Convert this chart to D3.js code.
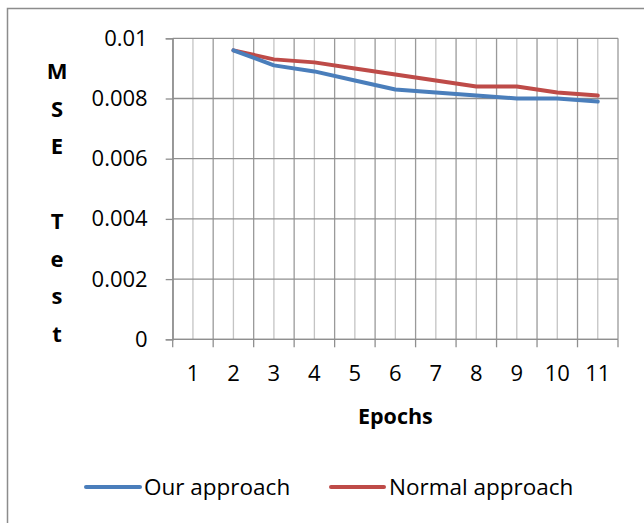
<!DOCTYPE html>
<html>
<head>
<meta charset="utf-8">
<script src="https://cdn.jsdelivr.net/npm/d3@7"></script>
<style>
  body { margin: 0; background: #fff; }
  text { font-family: "Open Sans", sans-serif; fill: #000; }
</style>
</head>
<body>
<svg id="chart"></svg>
<script>
var epochs = ["1", "2", "3", "4", "5", "6", "7", "8", "9", "10", "11"];
var ourApproach = [null, 0.0096, 0.0091, 0.0089, 0.0086, 0.0083, 0.0082, 0.0081, 0.0080, 0.0080, 0.0079];
var normalApproach = [null, 0.0096, 0.0093, 0.0092, 0.0090, 0.0088, 0.0086, 0.0084, 0.0084, 0.0082, 0.0081];
var yTicks = [0, 0.002, 0.004, 0.006, 0.008, 0.01];
var yLabelChars = ["M", "S", "E", "", "T", "e", "s", "t"];

var W = 644, H = 523;
var plot = {left: 172.7, right: 618, top: 38.3, bottom: 339.3};

var svg = d3.select("#chart")
  .attr("width", W)
  .attr("height", H);

// chart frame (runs off the right/bottom edge like the source picture)
svg.append("rect")
  .attr("x", 7.5).attr("y", 8.5)
  .attr("width", 700).attr("height", 600)
  .attr("fill", "none")
  .attr("stroke", "#8c8c8c")
  .attr("stroke-width", 1.5);

var x = d3.scaleBand()
  .domain(epochs)
  .range([plot.left, plot.right])
  .padding(0);

var y = d3.scaleLinear()
  .domain([0, 0.01])
  .range([plot.bottom, plot.top]);

var cx = d => x(d) + x.bandwidth() / 2;

// minor vertical grid at band centres
svg.append("g").selectAll("line")
  .data(epochs)
  .enter().append("line")
    .attr("x1", d => cx(d)).attr("x2", d => cx(d))
    .attr("y1", plot.top).attr("y2", plot.bottom)
    .attr("stroke", "#c4c4c4")
    .attr("stroke-width", 1.3);

// major vertical grid at band edges
var edges = epochs.map(d => x(d)).concat([plot.right]);
svg.append("g").selectAll("line")
  .data(edges)
  .enter().append("line")
    .attr("x1", d => d).attr("x2", d => d)
    .attr("y1", plot.top).attr("y2", plot.bottom)
    .attr("stroke", "#9a9a9a")
    .attr("stroke-width", 1.3);

// horizontal grid
svg.append("g").selectAll("line")
  .data(yTicks)
  .enter().append("line")
    .attr("x1", plot.left).attr("x2", plot.right)
    .attr("y1", d => y(d)).attr("y2", d => y(d))
    .attr("stroke", "#8f8f8f")
    .attr("stroke-width", 1.3);

// y axis
var fmt = d => d === 0 ? "0" : String(+d.toFixed(3));
svg.append("g")
  .attr("transform", "translate(" + plot.left + ",0)")
  .call(d3.axisLeft(y).tickValues(yTicks).tickFormat(fmt).tickSize(7).tickPadding(18))
  .call(g => g.select(".domain").attr("stroke", "#8f8f8f").attr("stroke-width", 1.3))
  .call(g => g.selectAll(".tick line").attr("stroke", "#8f8f8f").attr("stroke-width", 1.3))
  .call(g => g.selectAll(".tick text")
    .attr("font-family", "Open Sans, sans-serif")
    .attr("font-size", 22)
    .attr("fill", "#000"));

// x axis: ticks at band edges, labels at centres
var xAxis = svg.append("g")
  .attr("transform", "translate(0," + plot.bottom + ")");
xAxis.append("line")
  .attr("x1", plot.left).attr("x2", plot.right)
  .attr("stroke", "#8f8f8f").attr("stroke-width", 1.3);
xAxis.selectAll(".edge")
  .data(edges)
  .enter().append("line")
    .attr("x1", d => d).attr("x2", d => d)
    .attr("y1", 0).attr("y2", 8)
    .attr("stroke", "#8f8f8f").attr("stroke-width", 1.3);
xAxis.selectAll(".lbl")
  .data(epochs)
  .enter().append("text")
    .attr("x", d => cx(d))
    .attr("y", 42)
    .attr("text-anchor", "middle")
    .attr("font-size", 22)
    .text(d => d);

// axis titles
svg.append("text")
  .attr("x", (plot.left + plot.right) / 2)
  .attr("y", 424)
  .attr("text-anchor", "middle")
  .attr("font-size", 21.5)
  .attr("font-weight", "bold")
  .text("Epochs");

svg.append("g").selectAll("text")
  .data(yLabelChars)
  .enter().append("text")
    .attr("x", 57)
    .attr("y", (d, i) => 79 + i * 37.5)
    .attr("text-anchor", "middle")
    .attr("font-size", 22)
    .attr("font-weight", "bold")
    .text(d => d);

// series
var series = [
  {name: "Our approach", values: ourApproach, color: "#4a7ebb"},
  {name: "Normal approach", values: normalApproach, color: "#be4b48"}
];

var line = d3.line()
  .defined(d => d.v != null)
  .x(d => cx(d.e))
  .y(d => y(d.v));

series.slice().reverse().forEach(s => {
  svg.append("path")
    .datum(epochs.map((e, i) => ({e: e, v: s.values[i]})))
    .attr("d", line)
    .attr("fill", "none")
    .attr("stroke", s.color)
    .attr("stroke-width", 4)
    .attr("stroke-linejoin", "round")
    .attr("stroke-linecap", "round");
});

// legend
var legendPos = [{x1: 86, x2: 140, tx: 144}, {x1: 331, x2: 384, tx: 389}];
var legend = svg.append("g");
series.forEach((s, i) => {
  var p = legendPos[i];
  legend.append("line")
    .attr("x1", p.x1).attr("x2", p.x2)
    .attr("y1", 487).attr("y2", 487)
    .attr("stroke", s.color)
    .attr("stroke-width", 4)
    .attr("stroke-linecap", "round");
  legend.append("text")
    .attr("x", p.tx)
    .attr("y", 495)
    .attr("font-size", 22.5)
    .text(s.name);
});
</script>
</body>
</html>
